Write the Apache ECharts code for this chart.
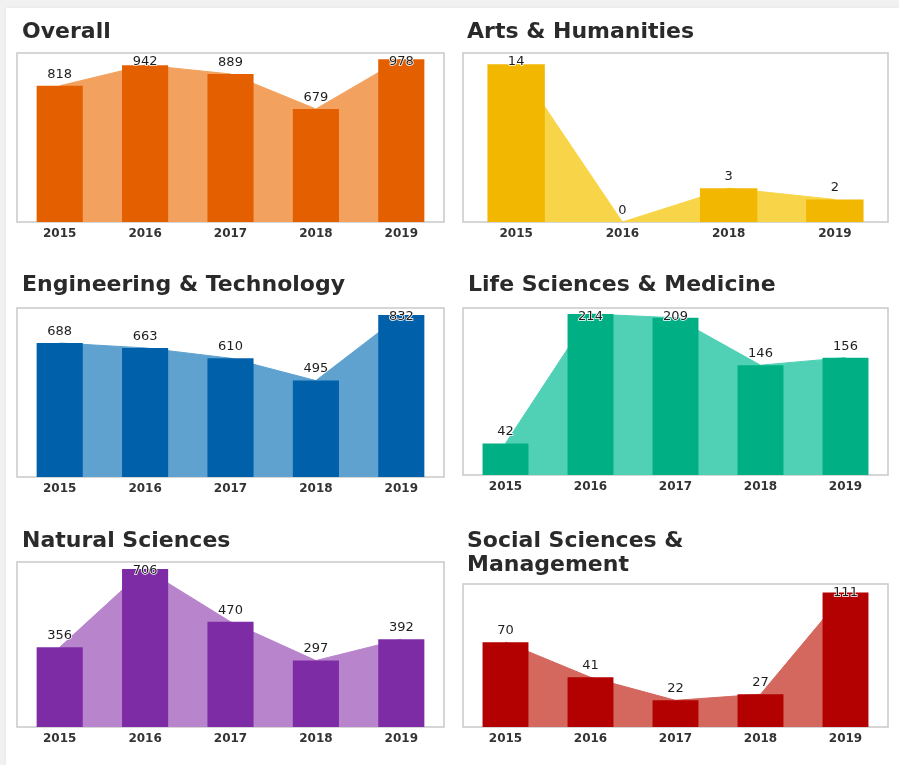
<!DOCTYPE html>
<html>
<head>
<meta charset="utf-8">
<script src="https://cdn.jsdelivr.net/npm/echarts@6/dist/echarts.min.js"></script>
<style>
  html, body { margin: 0; padding: 0; background: #f1f1f1; }
  #card { position: absolute; left: 6px; top: 8px; right: 0; bottom: 0; background: #ffffff; box-shadow: 0 0 3px rgba(0,0,0,0.06); }
  #chart { position: absolute; left: 0; top: 0; width: 899px; height: 765px; }
</style>
</head>
<body>
<div id="card"></div>
<div id="chart"></div>
<script>
// ---- data ----
const years5 = ['2015', '2016', '2017', '2018', '2019'];
const yearsArts = ['2015', '2016', '2018', '2019'];

const overall = [818, 942, 889, 679, 978];
const arts = [14, 0, 3, 2];
const engineering = [688, 663, 610, 495, 832];
const lifeSciences = [42, 214, 209, 146, 156];
const naturalSciences = [356, 706, 470, 297, 392];
const socialSciences = [70, 41, 22, 27, 111];

const titles = [
  'Overall',
  'Arts & Humanities',
  'Engineering & Technology',
  'Life Sciences & Medicine',
  'Natural Sciences',
  'Social Sciences &\nManagement'
];
const yMax = [1015, 15, 868, 222, 737, 118];

// ---- styling / layout ----
const panels = [
  { cats: years5,    vals: overall,         bar: '#E35F00', area: '#F2A25E', grid: { left: 17,  top: 53,  width: 427, height: 169 }, title: { left: 22,  top: 20 } },
  { cats: yearsArts, vals: arts,            bar: '#F2B700', area: '#F8D548', grid: { left: 463, top: 53,  width: 425, height: 169 }, title: { left: 467, top: 20 } },
  { cats: years5,    vals: engineering,     bar: '#0060AA', area: '#5FA2D0', grid: { left: 17,  top: 308, width: 427, height: 169 }, title: { left: 22,  top: 273 } },
  { cats: years5,    vals: lifeSciences,    bar: '#00B084', area: '#50D0B5', grid: { left: 463, top: 308, width: 425, height: 167 }, title: { left: 468, top: 273 } },
  { cats: years5,    vals: naturalSciences, bar: '#7E2CA6', area: '#B884CC', grid: { left: 17,  top: 562, width: 427, height: 165 }, title: { left: 22,  top: 529 } },
  { cats: years5,    vals: socialSciences,  bar: '#B30000', area: '#D4685E', grid: { left: 463, top: 584, width: 425, height: 143 }, title: { left: 467, top: 529 } }
];

const FONT = 'DejaVu Sans';
const option = {
  animation: false,
  backgroundColor: 'transparent',
  title: [], grid: [], xAxis: [], yAxis: [], series: []
};

panels.forEach((p, i) => {
  option.title.push({
    text: titles[i],
    left: p.title.left, top: p.title.top, padding: 0,
    textStyle: { fontFamily: FONT, fontWeight: 'bold', fontSize: 22, color: '#2a2a2a', lineHeight: 24 }
  });
  option.grid.push({
    left: p.grid.left, top: p.grid.top, width: p.grid.width, height: p.grid.height,
    show: true, borderColor: '#c9c9c9', borderWidth: 1.5, backgroundColor: '#ffffff'
  });
  option.xAxis.push({
    type: 'category', gridIndex: i, data: p.cats,
    axisLine: { show: false }, axisTick: { show: false }, splitLine: { show: false },
    axisLabel: { fontFamily: FONT, fontWeight: 'bold', fontSize: 12, color: '#333', margin: 6 }
  });
  option.yAxis.push({
    type: 'value', gridIndex: i, min: 0, max: yMax[i], show: false, splitLine: { show: false }
  });
  option.series.push({
    type: 'line', xAxisIndex: i, yAxisIndex: i, data: p.vals,
    symbol: 'none', smooth: false, z: 1,
    lineStyle: { color: p.area, width: 1 },
    areaStyle: { color: p.area, opacity: 1 }
  });
  const gTop = p.grid.top;
  option.series.push({
    type: 'bar', xAxisIndex: i, yAxisIndex: i, data: p.vals,
    barWidth: '54%', z: 3,
    itemStyle: { color: p.bar },
    label: {
      show: true, position: 'top', distance: 5,
      fontFamily: FONT, fontSize: 13, color: '#1e1e1e',
      textBorderColor: '#ffffff', textBorderWidth: 1.5
    },
    labelLayout: function (params) {
      const r = params.labelRect;
      const cy = r.y + r.height / 2;
      const cx = r.x + r.width / 2;
      const minCy = gTop + 9;
      if (cy < minCy) {
        return { x: cx, y: minCy, align: 'center', verticalAlign: 'middle' };
      }
      return {};
    }
  });
});

const chart = echarts.init(document.getElementById('chart'), null, { renderer: 'canvas' });
chart.setOption(option);
</script>
</body>
</html>
